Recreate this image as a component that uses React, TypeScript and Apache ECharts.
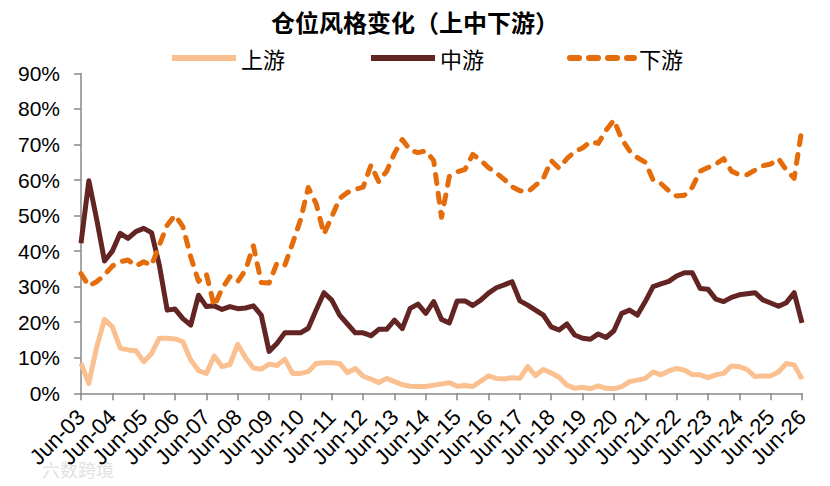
import React, { useEffect, useRef } from "react";
import * as echarts from "echarts";

const MONTHS = ["Jun", "Sep", "Dec", "Mar"];
const categories: string[] = [];
for (let i = 0; i < 93; i++) {
  const q = i % 4;
  const yr = 3 + Math.floor(i / 4) + (q === 3 ? 1 : 0);
  categories.push(`${MONTHS[q]}-${String(yr).padStart(2, "0")}`);
}

const upstream = [
  8.4, 2.8, 13, 20.8, 18.7, 12.7, 12.2, 12, 8.9, 11.2, 15.5, 15.5, 15.3, 14.5, 9.4, 6.4,
  5.6, 10.5, 7.5, 8.1, 13.8, 10, 7.1, 6.8, 8.2, 7.8, 9.6, 5.6, 5.6, 6.1, 8.4, 8.6,
  8.6, 8.4, 5.8, 7, 4.8, 4, 3, 4.2, 3.3, 2.4, 2, 1.9, 1.9, 2.3, 2.6, 3,
  2, 2.2, 1.9, 3.4, 4.9, 4.2, 4, 4.4, 4.2, 7.5, 5, 6.7, 5.7, 4.5, 2.3, 1.4,
  1.7, 1.3, 2.1, 1.4, 1.3, 1.9, 3.3, 3.7, 4.2, 6, 5.2, 6.3, 7, 6.5, 5.3, 5.2,
  4.4, 5.2, 5.6, 7.7, 7.5, 6.7, 4.7, 4.9, 4.9, 6, 8.4, 8, 4,
];

const midstream = [
  42.2, 59.8, 49, 37.2, 40, 45, 43.6, 45.5, 46.4, 45.2, 36, 23.4, 23.7, 21, 19.2, 27.6,
  24.4, 24.6, 23.6, 24.4, 23.8, 24, 24.6, 22, 11.8, 14, 17, 17, 17, 18.3, 23.4, 28.3,
  26.2, 22, 19.5, 17, 17, 16.2, 18, 18, 20.6, 18.2, 23.9, 25.1, 22.5, 25.8, 20.8, 19.8,
  26, 26, 24.7, 26.2, 28.2, 29.7, 30.5, 31.4, 26, 24.8, 23.4, 22, 18.7, 17.8, 19.5, 16.4,
  15.5, 15.2, 16.7, 15.7, 17.6, 22.5, 23.4, 22, 25.8, 30, 30.8, 31.5, 33, 33.9, 33.9, 29.5,
  29.3, 26.5, 25.8, 27, 27.7, 28, 28.3, 26.3, 25.4, 24.5, 25.5, 28.3, 19.8,
];

const downstream = [
  33.7, 30.2, 31.4, 33.3, 35.8, 37, 37.5, 35.8, 37, 36, 41.7, 47.3, 50.1, 46.9, 38.4, 31.5,
  33.5, 24.5, 29.5, 32.8, 31.4, 34.7, 41.5, 31.2, 31, 36.6, 36, 42.2, 48.7, 57.9, 53.4, 44.8,
  49.7, 54.8, 56.5, 57.4, 58, 64.2, 59.5, 62.5, 67.5, 71.4, 68.4, 67.7, 68.2, 65.5, 49.5, 61,
  62.3, 63, 67.2, 65.5, 63.5, 62, 60.2, 58.1, 57, 56.6, 58.5, 60.5, 65.5, 63.3, 66, 68,
  69, 70.8, 70.3, 74, 76.9, 71.5, 68.2, 66.3, 65, 60, 59, 57, 55.5, 55.7, 58, 62.5,
  63.5, 64.5, 66, 62.5, 61.5, 61.5, 62.8, 64, 64.5, 66, 62.8, 60.5, 74.5,
];

const SERIES_NAMES = ["上游", "中游", "下游"];
const TITLE = "仓位风格变化（上中下游）";
const WATERMARK = "六数跨境";

export default function App() {
  const ref = useRef<HTMLDivElement>(null);
  useEffect(() => {
    document.body.style.margin = "0";
    const chart = echarts.init(ref.current!, null, { renderer: "svg" });
    const font = "Liberation Sans, Arial, Noto Sans CJK SC, sans-serif";
    const cjk = "Noto Sans CJK SC, sans-serif";
    chart.setOption({
      animation: false,
      backgroundColor: "#ffffff",
      textStyle: { fontFamily: font },
      title: {
        text: TITLE,
        left: "center",
        top: 4,
        textStyle: { fontSize: 24, fontWeight: "bold", color: "#000", fontFamily: cjk },
      },
      legend: {
        top: 42,
        left: 164,
        itemWidth: 64,
        itemHeight: 14,
        itemGap: 83,
        itemStyle: { opacity: 0 },
        lineStyle: { width: 6 },
        textStyle: { fontSize: 22, color: "#000", fontFamily: cjk },
        data: SERIES_NAMES,
      },
      grid: { left: 81, right: 28, top: 73.4, bottom: 92.7, containLabel: false },
      xAxis: {
        type: "category",
        data: categories,
        boundaryGap: false,
        axisLine: { lineStyle: { color: "#888", width: 1.5 } },
        axisTick: { interval: 3, length: 7, lineStyle: { color: "#888", width: 1.5 } },
        axisLabel: {
          interval: 3,
          rotate: 45,
          fontSize: 22,
          color: "#000",
          margin: 20,
          fontFamily: font,
        },
        splitLine: { show: false },
      },
      yAxis: {
        type: "value",
        min: 0,
        max: 90,
        interval: 10,
        axisLine: { show: true, lineStyle: { color: "#888", width: 1.5 } },
        axisTick: { show: true, length: 7, lineStyle: { color: "#888", width: 1.5 } },
        axisLabel: { formatter: "{value}%", fontSize: 21, color: "#000", margin: 21, fontFamily: font },
        splitLine: { show: false },
      },
      series: [
        {
          name: SERIES_NAMES[0],
          type: "line",
          data: upstream,
          symbol: "none",
          lineStyle: { color: "#FAC090", width: 5, join: "round" },
          itemStyle: { color: "#FAC090" },
        },
        {
          name: SERIES_NAMES[1],
          type: "line",
          data: midstream,
          symbol: "none",
          lineStyle: { color: "#632523", width: 5, join: "round" },
          itemStyle: { color: "#632523" },
        },
        {
          name: SERIES_NAMES[2],
          type: "line",
          data: downstream,
          symbol: "none",
          lineStyle: { color: "#E46C0A", width: 5, type: [9, 10], cap: "round", join: "round" },
          itemStyle: { color: "#E46C0A" },
        },
      ],
      graphic: [
        {
          type: "text",
          left: 42,
          top: 460,
          style: { text: WATERMARK, fontSize: 18, fill: "#e2e2e2", fontFamily: cjk },
        },
      ],
    });
    return () => chart.dispose();
  }, []);
  return <div ref={ref} style={{ width: 830, height: 486 }} />;
}
